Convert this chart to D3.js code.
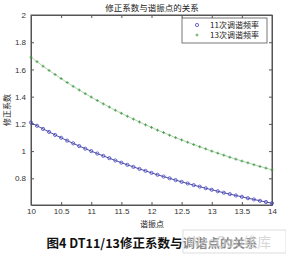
<!DOCTYPE html>
<html><head><meta charset="utf-8">
<script src="https://cdn.jsdelivr.net/npm/d3@7"></script>
<style>body{margin:0;background:#fff;}svg{display:block;font-family:"Noto Sans CJK SC","DejaVu Sans",sans-serif;}</style>
</head><body>
<script>
const xValues = [10.0,10.1,10.2,10.3,10.4,10.5,10.6,10.7,10.8,10.9,11.0,11.1,11.2,11.3,11.4,11.5,11.6,11.7,11.8,11.9,12.0,12.1,12.2,12.3,12.4,12.5,12.6,12.7,12.8,12.9,13.0,13.1,13.2,13.3,13.4,13.5,13.6,13.7,13.8,13.9,14.0];
const h11 = [1.210,1.186,1.163,1.141,1.119,1.098,1.077,1.057,1.037,1.018,1.000,0.982,0.965,0.948,0.931,0.915,0.899,0.884,0.869,0.855,0.840,0.826,0.813,0.800,0.787,0.774,0.762,0.750,0.739,0.727,0.716,0.705,0.694,0.684,0.674,0.664,0.654,0.645,0.635,0.626,0.617];
const h13 = [1.690,1.657,1.624,1.593,1.563,1.533,1.504,1.476,1.449,1.422,1.397,1.372,1.347,1.324,1.300,1.278,1.256,1.235,1.214,1.193,1.174,1.154,1.136,1.117,1.099,1.082,1.065,1.048,1.032,1.016,1.000,0.985,0.970,0.955,0.941,0.927,0.914,0.900,0.887,0.875,0.862];
const xTicks = [10,10.5,11,11.5,12,12.5,13,13.5,14];
const yTicks = [0.8,1,1.2,1.4,1.6,1.8,2];
const seriesNames = ["11次调谐频率","13次调谐频率"];
const titleText = "修正系数与谐振点的关系";
const xLabel = "谐振点";
const yLabel = "修正系数";
const caption = "图4 DT11/13修正系数与调谐点的关系";

const W=286,H=256;
const svg=d3.select("body").append("svg").attr("width",W).attr("height",H);
const L=31,R=272,T=15,B=205;
const x=d3.scaleLinear().domain([10,14]).range([L,R]);
const y=d3.scaleLinear().domain([0.604,2]).range([B,T]);
const axisCol="#555";

svg.append("rect").attr("x",L).attr("y",T).attr("width",R-L).attr("height",B-T).attr("fill","#fff").attr("stroke",axisCol).attr("stroke-width",1);

const fmt=d=>String(d);
const gx=svg.append("g").attr("transform",`translate(0,${B})`).call(d3.axisBottom(x).tickValues(xTicks).tickFormat(fmt).tickSizeInner(-3).tickSizeOuter(0).tickPadding(3));
const gxt=svg.append("g").attr("transform",`translate(0,${T})`).call(d3.axisTop(x).tickValues(xTicks).tickFormat("").tickSizeInner(-3).tickSizeOuter(0));
const gy=svg.append("g").attr("transform",`translate(${L},0)`).call(d3.axisLeft(y).tickValues(yTicks).tickFormat(fmt).tickSizeInner(-3).tickSizeOuter(0).tickPadding(5));
const gyr=svg.append("g").attr("transform",`translate(${R},0)`).call(d3.axisRight(y).tickValues(yTicks).tickFormat("").tickSizeInner(-3).tickSizeOuter(0));
[gx,gxt,gy,gyr].forEach(g=>{g.select(".domain").attr("stroke",axisCol);g.selectAll(".tick line").attr("stroke",axisCol);g.selectAll("text").attr("fill","#333").attr("font-size",8).attr("font-family","Liberation Sans, Arial, sans-serif");});

// series
const blue="#4444cc", green="#3a9a3a";
const d11=xValues.map((v,i)=>[v,h11[i]]), d13=xValues.map((v,i)=>[v,h13[i]]);
const line=d3.line().x(d=>x(d[0])).y(d=>y(d[1]));
svg.append("path").attr("d",line(d11)).attr("fill","none").attr("stroke","#22227a").attr("stroke-width",0.8);
svg.append("g").selectAll("circle").data(d11).join("circle").attr("cx",d=>x(d[0])).attr("cy",d=>y(d[1])).attr("r",1.6).attr("fill","none").attr("stroke",blue).attr("stroke-width",0.8);
svg.append("path").attr("d",line(d13)).attr("fill","none").attr("stroke","#2e7a2e").attr("stroke-width",0.5).attr("opacity",0.7);
svg.append("g").selectAll("path.p").data(d13).join("path").attr("class","p").attr("d",d=>{const cx=x(d[0]),cy=y(d[1]);return `M${cx-1.5},${cy}H${cx+1.5}M${cx},${cy-1.5}V${cy+1.5}`;}).attr("stroke",green).attr("stroke-width",0.8);

// title & labels
svg.append("text").attr("x",152).attr("y",11).attr("text-anchor","middle").attr("font-size",8.5).attr("fill","#222").text(titleText);
svg.append("text").attr("x",152).attr("y",227).attr("text-anchor","middle").attr("font-size",8).attr("fill","#222").text(xLabel);
svg.append("text").attr("transform","translate(10,110) rotate(-90)").attr("text-anchor","middle").attr("font-size",8).attr("fill","#222").text(yLabel);

// legend
const lg=svg.append("g");
lg.append("rect").attr("x",182).attr("y",18).attr("width",85).attr("height",25).attr("fill","#fff").attr("stroke",axisCol).attr("stroke-width",0.8);
lg.append("circle").attr("cx",197).attr("cy",25).attr("r",1.6).attr("fill","none").attr("stroke",blue).attr("stroke-width",0.8);
lg.append("path").attr("d","M195.5,35H198.5M197,33.5V36.5").attr("stroke",green).attr("stroke-width",0.8);
seriesNames.forEach((n,i)=>lg.append("text").attr("x",210).attr("y",28+i*10).attr("font-size",8).attr("fill","#222").text(n));

// caption
svg.append("text").attr("x",152).attr("y",248).attr("text-anchor","middle").attr("font-size",12.5).attr("font-weight","bold").attr("fill","#111").text(caption);

// watermark
svg.append("rect").attr("x",183).attr("y",230).attr("width",103).attr("height",23).attr("fill","#fff").attr("fill-opacity",0.5).attr("stroke","#ddd");
svg.append("text").attr("x",188).attr("y",247).attr("font-size",14).attr("fill","#ccc").attr("fill-opacity",0.8).text("WeeQoo维库");
</script>
</body></html>
